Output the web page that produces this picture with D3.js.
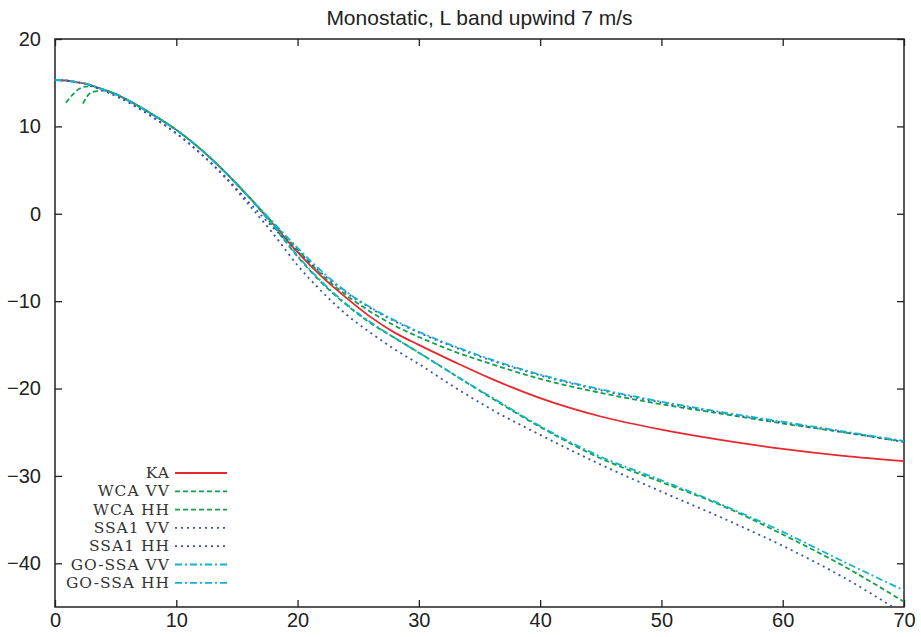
<!DOCTYPE html>
<html lang="en">
<head>
<meta charset="UTF-8">
<title>Monostatic, L band upwind 7 m/s</title>
<style>
    body{
        margin: 0;
        background-color: white;
    }
    #chart{
        width: 921px;
        height: 637px;
    }
    .tickLabel{
        font-family: "Liberation Sans", Arial, sans-serif;
        font-size: 20px;
        fill: #222;
    }
    .legendText{
        font-family: "DejaVu Serif", "Liberation Serif", serif;
        font-size: 15.5px;
        letter-spacing: 1px;
        fill: #333;
    }
</style>
</head>
<body>
<div id="chart"></div>
<script src="https://d3js.org/d3.v7.min.js"></script>
<script>

// incidence angle (deg) shared by all curves
let angles = [0, 0.9, 2, 2.3, 3, 4, 5, 6, 8, 10, 12, 14, 16, 18, 20, 22, 24, 26, 28, 30, 33, 36, 40, 45, 50, 55, 60, 65, 70]

let kaVals    = [15.3, 15.25, 15.0, 14.95, 14.7, 14.2, 13.7, 13.0, 11.4, 9.6, 7.4, 4.8, 1.9, -1.2, -4.4, -7.2, -9.6, -11.8, -13.6, -15.0, -17.0, -18.9, -21.1, -23.2, -24.7, -25.9, -26.9, -27.7, -28.3]
let wcaVV     = [null, 12.7, 14.3, 14.5, 14.6, 14.2, 13.7, 13.0, 11.4, 9.6, 7.4, 4.8, 1.9, -1.1, -4.1, -7.0, -9.3, -11.2, -12.8, -14.1, -15.8, -17.2, -18.9, -20.5, -21.8, -22.9, -24.0, -25.0, -26.1]
let wcaHH     = [null, null, null, 12.6, 13.9, 14.1, 13.7, 13.0, 11.4, 9.6, 7.4, 4.8, 1.9, -1.4, -4.9, -7.9, -10.4, -12.5, -14.2, -15.9, -18.5, -21.1, -24.4, -28.0, -30.7, -33.4, -36.7, -40.3, -44.4]
let ssaVV     = [15.3, 15.25, 15.0, 14.95, 14.6, 14.1, 13.5, 12.8, 11.1, 9.2, 6.9, 4.3, 1.3, -1.6, -4.3, -6.8, -9.0, -10.8, -12.3, -13.6, -15.3, -16.8, -18.5, -20.2, -21.6, -22.8, -23.9, -25.0, -26.1]
let ssaHH     = [15.3, 15.25, 15.0, 14.95, 14.6, 14.1, 13.5, 12.8, 11.1, 9.2, 6.9, 4.2, 1.0, -2.3, -5.9, -8.9, -11.5, -13.6, -15.5, -17.2, -19.9, -22.4, -25.3, -28.7, -31.8, -34.8, -38.0, -41.6, -45.8]
let gossaVV   = [15.3, 15.25, 15.0, 14.95, 14.7, 14.2, 13.7, 13.0, 11.4, 9.6, 7.4, 4.8, 1.9, -1.0, -3.9, -6.6, -8.9, -10.7, -12.2, -13.5, -15.2, -16.7, -18.4, -20.1, -21.5, -22.7, -23.8, -24.9, -26.0]
let gossaHH   = [15.3, 15.25, 15.0, 14.95, 14.7, 14.2, 13.7, 13.0, 11.4, 9.6, 7.4, 4.8, 1.9, -1.3, -4.8, -7.8, -10.3, -12.4, -14.2, -15.9, -18.5, -21.0, -24.3, -27.8, -30.5, -33.3, -36.4, -39.8, -43.1]

let seriesNames = ["KA", "WCA VV", "WCA HH", "SSA1 VV", "SSA1 HH", "GO-SSA VV", "GO-SSA HH"]
let seriesVals  = [kaVals, wcaVV, wcaHH, ssaVV, ssaHH, gossaVV, gossaHH]
let xTicks = [0, 10, 20, 30, 40, 50, 60, 70]
let yTicks = [-40, -30, -20, -10, 0, 10, 20]

let styles = {
    "KA":        {color: "#e8262d", dash: null},
    "WCA VV":    {color: "#12a14a", dash: "5 3"},
    "WCA HH":    {color: "#12a14a", dash: "5 3"},
    "SSA1 VV":   {color: "#3b4fae", dash: "2 4"},
    "SSA1 HH":   {color: "#3b4fae", dash: "2 4"},
    "GO-SSA VV": {color: "#12b3cf", dash: "7 3 2 3"},
    "GO-SSA HH": {color: "#12b3cf", dash: "7 3 2 3"}
}

let margin = {top: 39, right: 17, bottom: 30, left: 55},
    w = 921, h = 637,
    width = w - margin.left - margin.right,
    height = h - margin.top - margin.bottom

let svg = d3.select("#chart")
    .append("svg")
    .attr("width", w)
    .attr("height", h)

let g = svg.append("g")
    .attr("transform", `translate(${margin.left},${margin.top})`)

let xScale = d3.scaleLinear().domain([0, 70]).range([0, width])
let yScale = d3.scaleLinear().domain([-45, 20]).range([height, 0])

// title
svg.append("text")
    .attr("x", margin.left + width / 2)
    .attr("y", 25)
    .attr("text-anchor", "middle")
    .attr("class", "tickLabel")
    .style("font-size", "21px")
    .text("Monostatic, L band upwind 7 m/s")

// inward ticks on all four sides
let tickLen = 7
g.append("g")
    .attr("transform", `translate(0,${height})`)
    .call(d3.axisBottom(xScale).tickValues(xTicks).tickSize(-tickLen).tickPadding(6).tickFormat(d3.format("d")))
g.append("g")
    .call(d3.axisTop(xScale).tickValues(xTicks).tickSize(-tickLen).tickFormat(""))
g.append("g")
    .call(d3.axisLeft(yScale).tickValues(yTicks).tickSize(-tickLen).tickPadding(tickLen + 7).tickFormat(d3.format("d")))
g.append("g")
    .attr("transform", `translate(${width},0)`)
    .call(d3.axisRight(yScale).tickValues(yTicks).tickSize(-tickLen).tickFormat(""))

g.selectAll(".domain").remove()
g.selectAll(".tick line").attr("stroke", "#222").attr("stroke-width", 1.3)
g.selectAll(".tick text").attr("class", "tickLabel").attr("font-family", null).attr("font-size", null)

g.append("rect")
    .attr("width", width)
    .attr("height", height)
    .attr("fill", "none")
    .attr("stroke", "#222")
    .attr("stroke-width", 1.5)

g.append("clipPath")
    .attr("id", "plotClip")
    .append("rect")
    .attr("width", width)
    .attr("height", height)

let line = d3.line()
    .defined(d => d.v != null)
    .x(d => xScale(d.a))
    .y(d => yScale(d.v))
    .curve(d3.curveMonotoneX)

let dataMaped = seriesNames.map((name, i) => ({
    name: name,
    values: angles.map((a, j) => ({a: a, v: seriesVals[i][j]}))
}))

g.append("g")
    .attr("clip-path", "url(#plotClip)")
    .selectAll("path")
    .data(dataMaped)
    .join("path")
    .attr("d", d => line(d.values))
    .attr("fill", "none")
    .attr("stroke", d => styles[d.name].color)
    .attr("stroke-width", 1.8)
    .attr("stroke-dasharray", d => styles[d.name].dash)

// legend
let legend = g.selectAll(".legend")
    .data(seriesNames)
    .join("g")
    .attr("class", "legend")
    .attr("transform", (d, i) => `translate(0,${434 + i * 18.3})`)

legend.append("text")
    .attr("class", "legendText")
    .attr("x", 115)
    .attr("y", 5)
    .attr("text-anchor", "end")
    .text(d => d)

legend.append("line")
    .attr("x1", 120)
    .attr("x2", 172)
    .attr("stroke", d => styles[d].color)
    .attr("stroke-width", 1.8)
    .attr("stroke-dasharray", d => styles[d].dash)

</script>
</body>
</html>
